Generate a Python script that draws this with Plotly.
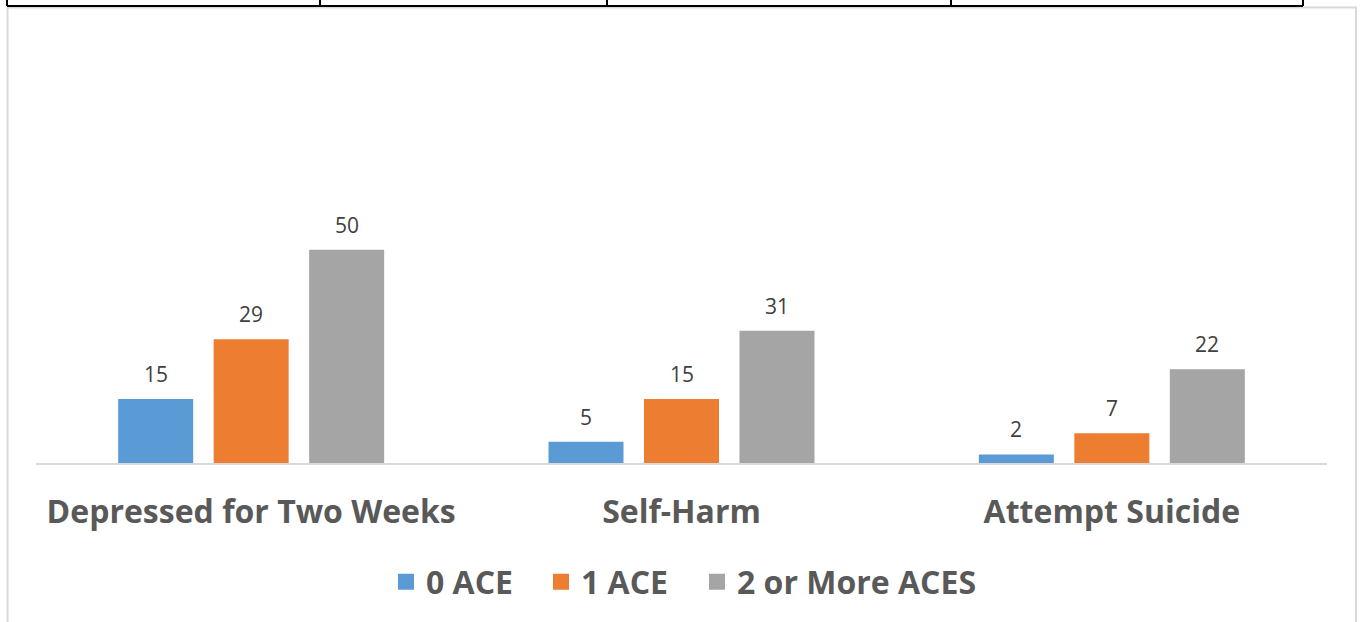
import plotly.graph_objects as go

# ---- data ----
categories = ["Depressed for Two Weeks", "Self-Harm", "Attempt Suicide"]
series_names = ["0 ACE", "1 ACE", "2 or More ACES"]
values_0_ace = [15, 5, 2]
values_1_ace = [29, 15, 7]
values_2_plus = [50, 31, 22]
series_values = [values_0_ace, values_1_ace, values_2_plus]
series_colors = ["#5B9BD5", "#ED7D31", "#A5A5A5"]

# ---- page / plot geometry (pixels) ----
W, H = 1364, 622
M_L, M_R, M_T, M_B = 36, 37, 207, 159
PLOT_W = W - M_L - M_R
PLOT_H = H - M_T - M_B
Y_MAX = 60

BAR_W = 0.1743        # bar width in category units
BAR_STEP = 0.2219     # centre-to-centre distance of bars inside a group


def px_x(x):
    return (x - M_L) / PLOT_W


def px_y(y):
    return (H - M_B - y) / PLOT_H


fig = go.Figure()

n_series = len(series_names)
for k, (name, vals, col) in enumerate(zip(series_names, series_values, series_colors)):
    shift = (k - (n_series - 1) / 2) * BAR_STEP
    fig.add_trace(go.Bar(
        x=list(range(len(categories))), y=vals, name=name,
        width=BAR_W, offset=shift - BAR_W / 2,
        marker=dict(color=col, line=dict(width=0)),
        showlegend=False, hoverinfo="skip",
    ))
    # value labels above each bar
    for i, v in enumerate(vals):
        fig.add_annotation(
            x=i + shift, y=v, xref="x", yref="y", text=str(v),
            showarrow=False, yanchor="bottom", yshift=9,
            font=dict(family="Open Sans", size=21, color="#404040"),
        )
    # legend entry with a larger square swatch; the long last entry
    # sits in its own legend so the fixed entry width does not clip it
    fig.add_trace(go.Scatter(
        x=[None], y=[None], mode="markers", name=name,
        marker=dict(symbol="square", size=16, color=col),
        showlegend=True, hoverinfo="skip",
        legend="legend" if k < n_series - 1 else "legend2",
    ))

shapes = []
# light grey chart frame
shapes.append(dict(
    type="rect", xref="paper", yref="paper",
    x0=px_x(7.5), x1=px_x(1356), y0=px_y(640), y1=px_y(7.5),
    line=dict(color="#D9D9D9", width=2), fillcolor="rgba(0,0,0,0)", layer="below",
))
# table rule above the chart
shapes.append(dict(
    type="line", xref="paper", yref="paper",
    x0=px_x(7), x1=px_x(1303), y0=px_y(6), y1=px_y(6),
    line=dict(color="#000000", width=2),
))
for xv in [7, 320, 607, 951, 1303]:
    shapes.append(dict(
        type="line", xref="paper", yref="paper",
        x0=px_x(xv), x1=px_x(xv), y0=px_y(-2), y1=px_y(6),
        line=dict(color="#000000", width=2),
    ))

legend_font = dict(family="Open Sans", size=32, color="#595959", weight="bold")

fig.update_layout(
    width=W, height=H,
    margin=dict(l=M_L, r=M_R, t=M_T, b=M_B, pad=0),
    paper_bgcolor="white", plot_bgcolor="white",
    barmode="overlay",
    shapes=shapes,
    xaxis=dict(
        range=[-0.5, len(categories) - 0.5],
        tickmode="array", tickvals=list(range(len(categories))), ticktext=categories,
        showgrid=False, zeroline=False, ticks="",
        showline=True, linecolor="#D9D9D9", linewidth=1.5,
        tickfont=dict(family="Open Sans", size=32, color="#595959", weight="bold"),
        ticklabelstandoff=20,
        fixedrange=True,
    ),
    yaxis=dict(range=[0, Y_MAX], visible=False, fixedrange=True),
    legend=dict(
        orientation="h", x=px_x(386), xanchor="left", y=px_y(582), yanchor="middle",
        entrywidth=110, font=legend_font,
        itemclick=False, itemdoubleclick=False, bgcolor="rgba(0,0,0,0)",
    ),
    legend2=dict(
        orientation="h", x=px_x(697), xanchor="left", y=px_y(582), yanchor="middle",
        font=legend_font,
        itemclick=False, itemdoubleclick=False, bgcolor="rgba(0,0,0,0)",
    ),
    showlegend=True,
)

fig.write_html("out.html", include_plotlyjs=True, config={"displayModeBar": False})
